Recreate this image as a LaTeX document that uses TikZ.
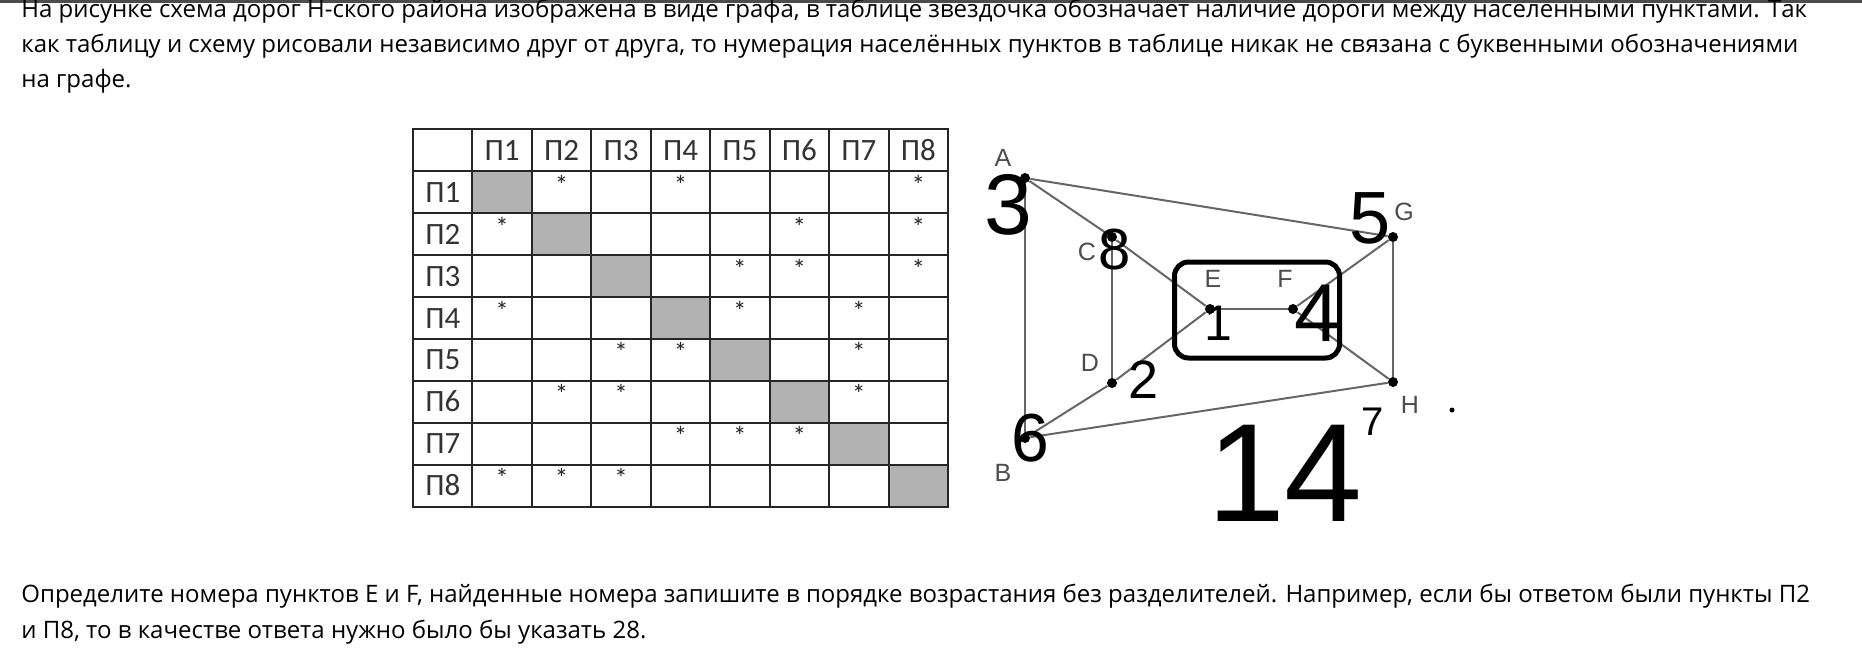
\documentclass[tikz,border=0pt]{standalone}
\usepackage{fontspec}
\setmainfont{Open Sans}
\newfontfamily\tablefont{Carlito}
\newfontfamily\graphfont{Liberation Sans}
\newfontfamily\handfont{Liberation Sans}
\usetikzlibrary{matrix, positioning}
\tikzset{
    task_line/.style={
        anchor=base west,
        inner sep=0pt,
        font=\fontsize{12}{17.5}\selectfont
    },
    adj_cell/.style={
        draw=black!85,
        line width=1pt,
        anchor=center,
        minimum width=29.72pt,
        minimum height=20.98pt,
        text height=10pt,
        text depth=0pt,
        inner sep=0pt,
        text=black!80,
        font=\tablefont\fontsize{15.5}{15.5}\selectfont
    },
    adj_diag/.style={
        fill=black!30
    },
    graph_vertex/.style={
        circle,
        fill=black,
        inner sep=0pt,
        minimum size=5pt
    },
    graph_label/.style={
        inner sep=0pt,
        text=black!70,
        font=\graphfont\fontsize{12.5}{12.5}\selectfont
    },
    graph_edge/.style={
        draw=black!60,
        line width=1pt
    },
    hand_digit/.style={
        inner sep=0pt,
        text=black,
        font=\handfont
    },
    hand_loop/.style={
        draw=black,
        line width=2.5pt,
        rounded corners=7pt,
        minimum width=82.5pt,
        minimum height=48pt
    }
}
\newcommand{\adjstar}{\raisebox{4pt}{\fontsize{13.5}{13.5}\selectfont\color{black!85}*}}

\begin{document}
\begin{tikzpicture}[x=0.5pt, y=-0.5pt]

\useasboundingbox (0,0) rectangle (1862,654);
\fill[white] (0,0) rectangle (1862,654);
\fill[black!70] (0,0) rectangle (1862,3);

% task text
\node[task_line] (taskA) at (21,17) {На рисунке схема дорог Н-ского района изображена в виде графа, в таблице звездочка обозначает наличие дороги между населенными пунктами. Так};
\node[task_line] (taskB) at (21,52) {как таблицу и схему рисовали независимо друг от друга, то нумерация населённых пунктов в таблице никак не связана с буквенными обозначениями};
\node[task_line] (taskC) at (21,87) {на графе.};

\node[task_line] (askA) at (21,602) {Определите номера пунктов E и F, найденные номера запишите в порядке возрастания без разделителей. Например, если бы ответом были пункты П2};
\node[task_line] (askB) at (21,638) {и П8, то в качестве ответа нужно было бы указать 28.};

% adjacency table
\matrix (adj) [matrix of nodes, nodes in empty cells,
  column sep=-1pt, row sep=-1pt, nodes={adj_cell}] at (680.5,318) {
     & П1 & П2 & П3 & П4 & П5 & П6 & П7 & П8 \\
  П1 & |[adj_diag]| & \adjstar & & \adjstar & & & & \adjstar \\
  П2 & \adjstar & |[adj_diag]| & & & & \adjstar & & \adjstar \\
  П3 & & & |[adj_diag]| & & \adjstar & \adjstar & & \adjstar \\
  П4 & \adjstar & & & |[adj_diag]| & \adjstar & & \adjstar & \\
  П5 & & & \adjstar & \adjstar & |[adj_diag]| & & \adjstar & \\
  П6 & & \adjstar & \adjstar & & & |[adj_diag]| & \adjstar & \\
  П7 & & & & \adjstar & \adjstar & \adjstar & |[adj_diag]| & \\
  П8 & \adjstar & \adjstar & \adjstar & & & & & |[adj_diag]| \\
};

% graph
\node[graph_vertex] (A) at (1025,178) {};
\node[graph_vertex] (B) at (1025,438) {};
\node[graph_vertex] (C) at (1112,237) {};
\node[graph_vertex] (D) at (1112,383) {};
\node[graph_vertex] (E) at (1210,309) {};
\node[graph_vertex] (F) at (1293,309) {};
\node[graph_vertex] (G) at (1393,237) {};
\node[graph_vertex] (H) at (1393,382) {};

\draw[graph_edge] (A) -- (B);
\draw[graph_edge] (A) -- (G);
\draw[graph_edge] (A) -- (C);
\draw[graph_edge] (C) -- (D);
\draw[graph_edge] (C) -- (E);
\draw[graph_edge] (D) -- (E);
\draw[graph_edge] (D) -- (B);
\draw[graph_edge] (E) -- (F);
\draw[graph_edge] (F) -- (G);
\draw[graph_edge] (F) -- (H);
\draw[graph_edge] (G) -- (H);
\draw[graph_edge] (B) -- (H);

\node[graph_label] (labA) at (1003,158) {A};
\node[graph_label] (labB) at (1003,473) {B};
\node[graph_label] (labC) at (1087,252) {C};
\node[graph_label] (labD) at (1090,363) {D};
\node[graph_label] (labE) at (1213,279) {E};
\node[graph_label] (labF) at (1285,279) {F};
\node[graph_label] (labG) at (1404,212) {G};
\node[graph_label] (labH) at (1410,405) {H};

% handwritten answers
\node[hand_loop] (efLoop) at (1257,310) {};
\node[hand_digit, font=\handfont\fontsize{43}{43}\selectfont] (numA) at (1008,205) {3};
\node[hand_digit, font=\handfont\fontsize{29}{29}\selectfont] (numC) at (1115,250) {8};
\node[hand_digit, font=\handfont\fontsize{37}{37}\selectfont] (numG) at (1370,218) {5};
\node[hand_digit, font=\handfont\fontsize{25}{25}\selectfont] (numE) at (1218,323) {1};
\node[hand_digit, font=\handfont\fontsize{41}{41}\selectfont] (numF) at (1317,313) {4};
\node[hand_digit, font=\handfont\fontsize{27}{27}\selectfont] (numD) at (1143,380) {2};
\node[hand_digit, font=\handfont\fontsize{34}{34}\selectfont] (numB) at (1030,438) {6};
\node[hand_digit, font=\handfont\fontsize{20}{20}\selectfont] (numH) at (1373,422) {7};
\node[hand_digit, font=\handfont\fontsize{70}{70}\selectfont] (answer) at (1285,473) {14};
\fill (1452,410) circle (2.5);

\end{tikzpicture}
\end{document}
